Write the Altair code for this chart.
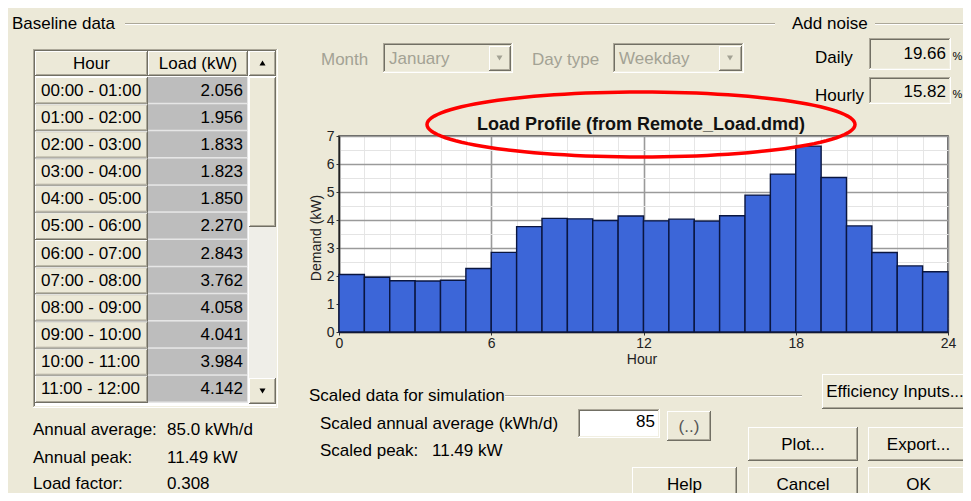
import math
import altair as alt
import pandas as pd

# ---------------- data ----------------
hours = list(range(24))
load_kw = [2.056, 1.956, 1.833, 1.823, 1.850, 2.270, 2.843, 3.762, 4.058, 4.041, 3.984, 4.142,
           3.97, 4.03, 3.96, 4.15, 4.89, 5.64, 6.64, 5.52, 3.79, 2.84, 2.36, 2.15]
x_major = [0, 6, 12, 18, 24]
y_major = [0, 1, 2, 3, 4, 5, 6, 7]
table_hours = [f"{h:02d}:00 - {h + 1:02d}:00" for h in hours[:12]]
table_loads = [f"{v:.3f}" for v in load_kw[:12]]
stat_labels = ["Annual average:", "Annual peak:", "Load factor:"]
stat_values = ["85.0 kWh/d", "11.49 kW", "0.308"]
noise_labels = ["Daily", "Hourly"]
noise_values = ["19.66", "15.82"]
month = "January"
day_type = "Weekday"
scaled_avg = "85"
scaled_peak = "11.49 kW"
chart_title = "Load Profile (from Remote_Load.dmd)"

FONT = "Liberation Sans"
FACE, HI, SH, DK = "#ECE9D8", "#FFFFFF", "#ACA899", "#716F64"
GRAY_TXT = "#A3A294"

# plot area position on the page
OX, OY = 339, 136
W, H = 609, 196
CANVAS_W, CANVAS_H = 955, 485

# ---------------- dialog decoration ----------------
rects = []


def flat(x1, y1, x2, y2, fill):
    rects.append(dict(x=x1 - OX, x2=x2 - OX, y=y1 - OY, y2=y2 - OY, fill=fill, i=len(rects)))


def raised(x1, y1, x2, y2, face=FACE):
    flat(x1, y1, x2, y2, DK)
    flat(x1, y1, x2 - 1, y2 - 1, HI)
    flat(x1 + 1, y1 + 1, x2 - 1, y2 - 1, SH)
    flat(x1 + 1, y1 + 1, x2 - 2, y2 - 2, face)


def sunken(x1, y1, x2, y2, face=FACE):
    flat(x1, y1, x2, y2, HI)
    flat(x1, y1, x2 - 1, y2 - 1, SH)
    flat(x1 + 1, y1 + 1, x2 - 1, y2 - 1, "#F1EFE2")
    flat(x1 + 1, y1 + 1, x2 - 2, y2 - 2, DK)
    flat(x1 + 2, y1 + 2, x2 - 2, y2 - 2, face)


def etched(x1, x2, y):
    flat(x1, y, x2, y + 1, SH)
    flat(x1, y + 1, x2, y + 2, HI)


etched(125, 775, 23)
etched(875, 975, 23)
etched(505, 802, 395)

# table
sunken(33, 49, 278, 408, face=HI)
raised(35, 51, 148, 76)
raised(148, 51, 248, 76)
ROW0, ROWH = 77, 27.17
for i in range(12):
    y1 = ROW0 + ROWH * i
    raised(35, y1, 148, y1 + ROWH)
    flat(148, y1, 248, y1 + ROWH, "#E6E6E6")
    flat(148, y1, 247, y1 + ROWH - 1.5, "#BDBDBD")
raised(249, 51, 276, 76)
raised(249, 77, 276, 227)
flat(249, 227, 276, 378, "#EFEEE8")
raised(249, 378, 276, 404)

# combos and boxes
sunken(383, 43, 513, 73)
raised(489, 46, 511, 71)
sunken(613, 43, 744, 73)
raised(719, 46, 742, 71)
sunken(869, 38, 951, 70)
sunken(869, 77, 951, 104)
sunken(578, 409, 660, 438, face=HI)

# buttons
buttons = [("(..)", 667, 411, 711, 441), ("Efficiency Inputs...", 822, 374, 968, 409),
           ("Plot...", 748, 427, 858, 461), ("Export...", 868, 427, 975, 461),
           ("Help", 632, 467, 737, 505), ("Cancel", 748, 467, 858, 505), ("OK", 868, 467, 975, 505)]
for _, x1, y1, x2, y2 in buttons:
    raised(x1, y1, x2, y2)

texts = {"left": [], "center": [], "right": []}


def txt(s, x, y, align="left", size=17, color="#000000"):
    texts[align].append(dict(x=x - OX, y=y - OY, t=s, size=size, color=color))


txt("Baseline data", 12, 24)
txt("Add noise", 792, 24)
txt("Hour", 91.5, 63.5, "center")
txt("Load (kW)", 198, 63.5, "center")
for i in range(12):
    yc = ROW0 + ROWH * i + 13.5
    txt(table_hours[i], 41, yc)
    txt(table_loads[i], 243, yc, "right")
for i, (lab, val) in enumerate(zip(stat_labels, stat_values)):
    yc = [430, 458, 484][i]
    txt(lab, 33, yc)
    txt(val, 167, yc)
txt("Month", 321, 60, color=GRAY_TXT)
txt(month, 389, 59, color=GRAY_TXT)
txt("Day type", 532, 60, color=GRAY_TXT)
txt(day_type, 619, 59, color=GRAY_TXT)
for i, (lab, val) in enumerate(zip(noise_labels, noise_values)):
    yc = [56, 94][i]
    txt(lab, 815, yc + 2)
    txt(val, 946, yc - 2, "right")
    txt("%", 952.5, yc + 1, size=11)
txt("Scaled data for simulation", 309, 396)
txt("Scaled annual average (kWh/d)", 320, 424)
txt(scaled_avg, 655, 422, "right")
txt("Scaled peak:", 320, 451)
txt(scaled_peak, 432, 451)
for lab, x1, y1, x2, y2 in buttons:
    xe = min(x2, 969)
    txt(lab, (x1 + xe) / 2, (y1 + min(y2, 501)) / 2 + 0.5, "center",
        color="#555555" if lab == "(..)" else "#000000")

# ---------------- chart ----------------
bar_df = pd.DataFrame({"start": hours, "end": [h + 1 for h in hours], "load": load_kw})

xt = f"indexof({x_major}, datum.value) >= 0"
yt = f"indexof({y_major}, datum.value) >= 0"

x_axis = alt.Axis(
    values=hours + [24], title=None,
    labelExpr=f"{xt} ? format(datum.value, 'd') : ''",
    labelFlush=False, labelOverlap=False, labelFont=FONT, labelFontSize=14, labelColor="#222222",
    labelPadding=1, tickSize=3,
    tickColor={"condition": {"test": xt, "value": "#333333"}, "value": "transparent"},
    grid=True,
    gridColor={"condition": {"test": xt, "value": "#9A9A9A"}, "value": "#E6E6E6"},
    gridWidth={"condition": {"test": xt, "value": 1.6}, "value": 1},
    domainColor="#222222", domainWidth=1.5)

y_axis = alt.Axis(
    values=[v / 2 for v in range(15)], title=None,
    labelExpr=f"{yt} ? format(datum.value, 'd') : ''",
    labelFlush=False, labelOverlap=False, labelFont=FONT, labelFontSize=14, labelColor="#222222",
    labelPadding=2, tickSize=3,
    tickColor={"condition": {"test": yt, "value": "#333333"}, "value": "transparent"},
    grid=True,
    gridColor={"condition": {"test": yt, "value": "#9A9A9A"}, "value": "#E4E4E4"},
    gridWidth={"condition": {"test": yt, "value": 1.6}, "value": 1},
    domainColor="#222222", domainWidth=1.5)

bars = alt.Chart(bar_df).mark_rect(fill="#3C66D8", stroke="#0A1640", strokeWidth=1.4).encode(
    x=alt.X("start:Q", scale=alt.Scale(domain=[0, 24], nice=False, zero=False), axis=x_axis),
    x2="end:Q",
    y=alt.Y("load:Q", scale=alt.Scale(domain=[0, 7], nice=False), axis=y_axis),
    y2=alt.datum(0),
)

px = dict(scale=None, axis=None)
deco = alt.Chart(pd.DataFrame(rects)).mark_rect(strokeWidth=0).encode(
    x=alt.X("x:Q", **px), x2="x2:Q",
    y=alt.Y("y:Q", **px), y2="y2:Q",
    fill=alt.Fill("fill:N", scale=None, legend=None),
    order=alt.Order("i:Q"),
)

text_layers = []
for align, rows in texts.items():
    text_layers.append(
        alt.Chart(pd.DataFrame(rows)).mark_text(align=align, baseline="middle", font=FONT).encode(
            x=alt.X("x:Q", **px), y=alt.Y("y:Q", **px), text="t:N",
            size=alt.Size("size:Q", scale=None, legend=None),
            color=alt.Color("color:N", scale=None, legend=None),
        ))

title_df = pd.DataFrame({"x": [641 - OX], "y": [124.5 - OY], "t": [chart_title]})
title = alt.Chart(title_df).mark_text(font=FONT, fontSize=18, fontWeight="bold", color="#111111",
                                      baseline="middle", align="center").encode(
    x=alt.X("x:Q", **px), y=alt.Y("y:Q", **px), text="t:N")

axis_titles = pd.DataFrame({"x": [642 - OX, 317 - OX], "y": [360 - OY, 238 - OY],
                            "t": ["Hour", "Demand (kW)"], "a": [0, 270]})
ax_t = alt.Chart(axis_titles).mark_text(font=FONT, fontSize=14, color="#222222",
                                        baseline="middle", align="center").encode(
    x=alt.X("x:Q", **px), y=alt.Y("y:Q", **px), text="t:N",
    angle=alt.Angle("a:Q", scale=None, legend=None))

RX, RY = 214, 32.5
n = 120
pts = [(math.cos(2 * math.pi * k / n), -(RY / RX) * math.sin(2 * math.pi * k / n)) for k in range(n)]
ellipse_path = "M" + " L".join(f"{a:.4f},{b:.4f}" for a, b in pts) + " Z"
ellipse = alt.Chart(pd.DataFrame({"x": [641 - OX], "y": [124.5 - OY]})).mark_point(
    shape=ellipse_path, size=(2 * RX) ** 2, filled=False, color="#FF0000", strokeWidth=3.5,
    opacity=1).encode(x=alt.X("x:Q", **px), y=alt.Y("y:Q", **px))

tri_df = pd.DataFrame({"x": [262.5 - OX, 262.5 - OX, 499.5 - OX, 730 - OX],
                       "y": [63 - OY, 391 - OY, 58 - OY, 58 - OY],
                       "s": ["triangle-up", "triangle-down", "triangle-down", "triangle-down"],
                       "c": ["#000000", "#000000", "#A3A294", "#A3A294"]})
tris = alt.Chart(tri_df).mark_point(filled=True, size=36, opacity=1).encode(
    x=alt.X("x:Q", **px), y=alt.Y("y:Q", **px),
    shape=alt.Shape("s:N", scale=None, legend=None),
    color=alt.Color("c:N", scale=None, legend=None))

chart = alt.layer(bars, deco, *text_layers, title, ax_t, ellipse, tris).properties(
    width=W, height=H,
    padding={"left": OX - 8, "top": OY - 8,
             "right": CANVAS_W - (OX - 8) - W, "bottom": CANVAS_H - (OY - 8) - H},
    autosize=alt.AutoSizeParams(type="none"),
).configure(background=FACE).configure_view(fill="white", stroke="#333333", strokeWidth=1.5)

chart.save("out.html", embed_options={"renderer": "svg", "actions": False})
